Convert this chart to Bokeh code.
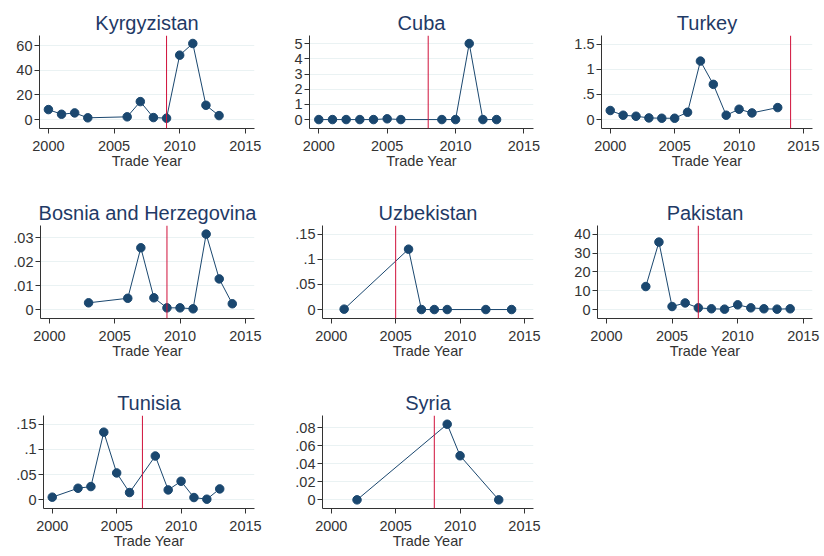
from bokeh.plotting import figure
from bokeh.layouts import column, row
from bokeh.models import Span, FixedTicker, Range1d
from bokeh.embed import file_html
from bokeh.resources import INLINE

# ---- data ----
kg_years = [2000, 2001, 2002, 2003, 2006, 2007, 2008, 2009, 2010, 2011, 2012, 2013]
kg_vals = [8.1, 4.3, 5.4, 1.4, 2.2, 14.6, 1.6, 1.1, 52.4, 61.9, 11.6, 3.2]
kg_event = 2009
kg_ticks = [0, 20, 40, 60]
kg_labels = ["0", "20", "40", "60"]

cu_years = [2000, 2001, 2002, 2003, 2004, 2005, 2006, 2009, 2010, 2011, 2012, 2013]
cu_vals = [0.0, 0.0, 0.0, 0.0, 0.0, 0.05, 0.0, 0.0, 0.0, 5.02, 0.0, 0.0]
cu_event = 2008
cu_ticks = [0, 1, 2, 3, 4, 5]
cu_labels = ["0", "1", "2", "3", "4", "5"]

tr_years = [2000, 2001, 2002, 2003, 2004, 2005, 2006, 2007, 2008, 2009, 2010, 2011, 2013]
tr_vals = [0.18, 0.086, 0.066, 0.033, 0.026, 0.026, 0.145, 1.163, 0.70, 0.086, 0.205, 0.132, 0.238]
tr_event = 2014
tr_ticks = [0, 0.5, 1, 1.5]
tr_labels = ["0", ".5", "1", "1.5"]

ba_years = [2003, 2006, 2007, 2008, 2009, 2010, 2011, 2012, 2013, 2014]
ba_vals = [0.0028, 0.0047, 0.0258, 0.0049, 0.0007, 0.0007, 0.0003, 0.0315, 0.0128, 0.0024]
ba_event = 2009
ba_ticks = [0, 0.01, 0.02, 0.03]
ba_labels = ["0", ".01", ".02", ".03"]

uz_years = [2001, 2006, 2007, 2008, 2009, 2012, 2014]
uz_vals = [0.0008, 0.12, 0.0, 0.0, 0.0, 0.0, 0.0]
uz_event = 2005
uz_ticks = [0, 0.05, 0.1, 0.15]
uz_labels = ["0", ".05", ".1", ".15"]

pk_years = [2003, 2004, 2005, 2006, 2007, 2008, 2009, 2010, 2011, 2012, 2013, 2014]
pk_vals = [12.2, 35.8, 1.6, 3.5, 0.9, 0.4, 0.2, 2.5, 0.9, 0.4, 0.2, 0.4]
pk_event = 2007
pk_ticks = [0, 10, 20, 30, 40]
pk_labels = ["0", "10", "20", "30", "40"]

tn_years = [2000, 2002, 2003, 2004, 2005, 2006, 2008, 2009, 2010, 2011, 2012, 2013]
tn_vals = [0.0053, 0.023, 0.0263, 0.134, 0.0533, 0.0145, 0.0868, 0.0197, 0.0368, 0.0046, 0.0013, 0.0217]
tn_event = 2007
tn_ticks = [0, 0.05, 0.1, 0.15]
tn_labels = ["0", ".05", ".1", ".15"]

sy_years = [2002, 2009, 2010, 2013]
sy_vals = [0.0, 0.084, 0.049, 0.0]
sy_event = 2008
sy_ticks = [0, 0.02, 0.04, 0.06, 0.08]
sy_labels = ["0", ".02", ".04", ".06", ".08"]

x_ticks = [2000, 2005, 2010, 2015]
x_title = "Trade Year"

NAVY = "#1a476f"
RED = "#d0103a"
GRID = "#eaf2f3"
TXT = "#333333"
FONT = "Liberation Sans"


def panel(title, years, vals, event, yticks, ylabels, yr, width, height, bl, br, bt, bb):
    p = figure(width=width, height=height, output_backend="svg", toolbar_location=None,
               x_range=Range1d(1999.32, 2015.7), y_range=Range1d(*yr),
               min_border_left=bl, min_border_right=br, min_border_top=bt, min_border_bottom=bb,
               title=title)
    p.outline_line_color = None
    p.background_fill_color = "white"
    p.border_fill_color = "white"
    p.title.align = "center"
    p.title.text_font = FONT
    p.title.text_font_size = "20px"
    p.title.text_font_style = "normal"
    p.title.text_color = "#1f3a66"
    p.title.standoff = 3
    p.xgrid.visible = False
    p.ygrid.ticker = FixedTicker(ticks=yticks)
    p.ygrid.grid_line_color = GRID
    p.ygrid.grid_line_width = 1
    p.xaxis.ticker = FixedTicker(ticks=x_ticks)
    p.yaxis.ticker = FixedTicker(ticks=yticks)
    p.yaxis.major_label_overrides = {t: l for t, l in zip(yticks, ylabels)}
    p.xaxis.axis_label = x_title
    for ax in (p.xaxis, p.yaxis):
        ax.axis_line_color = TXT
        ax.major_tick_line_color = TXT
        ax.major_tick_in = 0
        ax.major_tick_out = 5
        ax.minor_tick_line_color = None
        ax.major_label_text_font = FONT
        ax.major_label_text_font_size = "14.5px"
        ax.major_label_text_color = TXT
        ax.axis_label_text_font = FONT
        ax.axis_label_text_font_size = "14.5px"
        ax.axis_label_text_font_style = "normal"
        ax.axis_label_text_color = TXT
    p.xaxis.major_label_standoff = 7
    p.xaxis.axis_label_standoff = -1
    p.yaxis.major_label_standoff = 2
    p.add_layout(Span(location=event, dimension="height", line_color=RED, line_width=1))
    p.line(years, vals, line_color=NAVY, line_width=1)
    p.scatter(years, vals, size=8.5, fill_color=NAVY, line_color=NAVY)
    return p


p1 = panel("Kyrgyzistan", kg_years, kg_vals, kg_event, kg_ticks, kg_labels, (-7.3, 68.4), 274, 198, 39, 20, 35, 70)
p2 = panel("Cuba", cu_years, cu_vals, cu_event, cu_ticks, cu_labels, (-0.59, 5.55), 274, 198, 35, 15, 35, 70)
p3 = panel("Turkey", tr_years, tr_vals, tr_event, tr_ticks, tr_labels, (-0.178, 1.672), 276, 198, 53, 12, 35, 70)
p4 = panel("Bosnia and Herzegovina", ba_years, ba_vals, ba_event, ba_ticks, ba_labels, (-0.00375, 0.0351), 274, 190, 40, 20, 27, 70)
p5 = panel("Uzbekistan", uz_years, uz_vals, uz_event, uz_ticks, uz_labels, (-0.0178, 0.167), 274, 190, 48, 15, 27, 70)
p6 = panel("Pakistan", pk_years, pk_vals, pk_event, pk_ticks, pk_labels, (-4.76, 44.6), 276, 190, 49, 12, 27, 70)
p7 = panel("Tunisia", tn_years, tn_vals, tn_event, tn_ticks, tn_labels, (-0.0171, 0.167), 274, 168, 43, 20, 27, 48)
p8 = panel("Syria", sy_years, sy_vals, sy_event, sy_ticks, sy_labels, (-0.0096, 0.0937), 274, 168, 48, 15, 27, 48)

layout = column(row(p1, p2, p3), row(p4, p5, p6), row(p7, p8))

open("out.html", "w").write(file_html(layout, INLINE))
